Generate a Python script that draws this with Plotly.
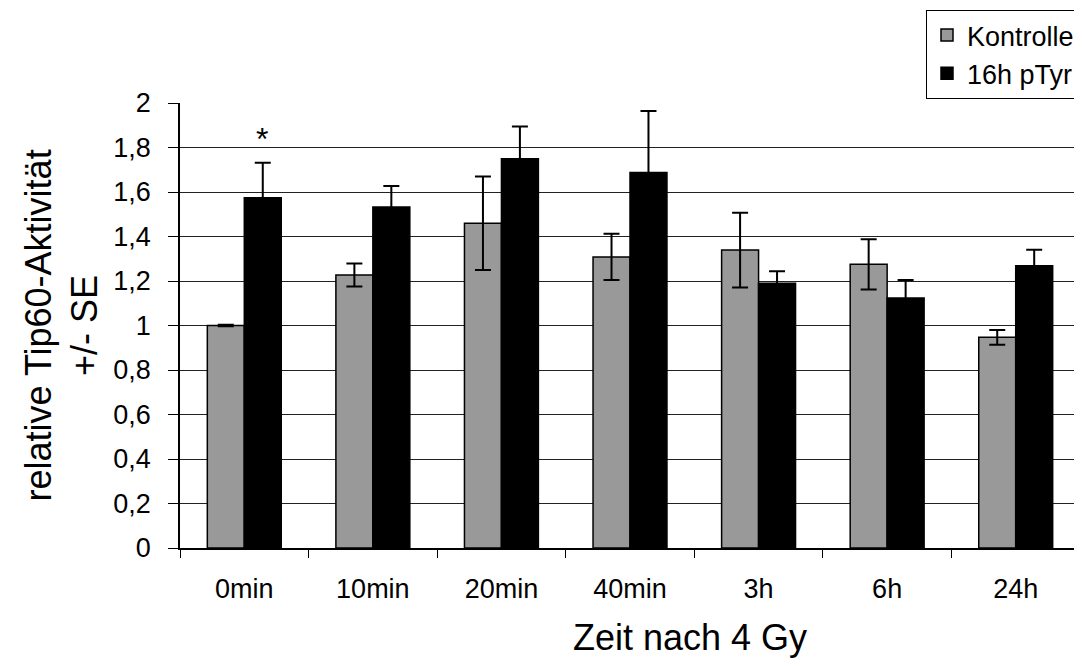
import plotly.graph_objects as go

categories = ["0min", "10min", "20min", "40min", "3h", "6h", "24h"]
kontrolle = [1.0, 1.227, 1.46, 1.308, 1.339, 1.275, 0.947]
kontrolle_se = [0.003, 0.052, 0.21, 0.104, 0.168, 0.113, 0.033]
ptyr = [1.574, 1.533, 1.749, 1.688, 1.19, 1.124, 1.269]
ptyr_se = [0.158, 0.094, 0.145, 0.276, 0.054, 0.08, 0.072]
y_ticks = [0, 0.2, 0.4, 0.6, 0.8, 1.0, 1.2, 1.4, 1.6, 1.8, 2.0]
y_tick_labels = ["0", "0,2", "0,4", "0,6", "0,8", "1", "1,2", "1,4", "1,6", "1,8", "2"]

FONT = "Liberation Sans, Arial, sans-serif"
TICK = 27
TITLE = 36

fig = go.Figure()
fig.add_trace(go.Bar(
    x=categories, y=kontrolle, name="Kontrolle",
    marker=dict(color="#999999", line=dict(color="black", width=1.5)),
    error_y=dict(type="data", array=kontrolle_se, visible=True,
                 color="black", thickness=2, width=8),
))
fig.add_trace(go.Bar(
    x=categories, y=ptyr, name="16h pTyr",
    marker=dict(color="black", line=dict(color="black", width=1.5)),
    error_y=dict(type="data", array=ptyr_se, visible=True,
                 color="black", thickness=2, width=8),
))

# significance marker
fig.add_annotation(x=0.14, xref="x", y=1.75, yref="y", text="*", showarrow=False,
                   xanchor="center", yanchor="bottom",
                   font=dict(family=FONT, size=32, color="black"))

# axis titles
fig.add_annotation(x=0.567, xref="paper", y=0, yref="paper", yshift=-89,
                   text="Zeit nach 4 Gy", showarrow=False,
                   xanchor="center", yanchor="middle",
                   font=dict(family=FONT, size=TITLE, color="black"))
fig.add_annotation(x=0, xref="paper", xshift=-119, y=0.5, yref="paper",
                   text="relative Tip60-Aktivität<br>+/- SE", showarrow=False,
                   textangle=-90, xanchor="center", yanchor="middle",
                   font=dict(family=FONT, size=TITLE, color="black"))

fig.update_layout(
    width=1074, height=658,
    paper_bgcolor="white", plot_bgcolor="white",
    barmode="group", bargap=0.425, bargroupgap=0,
    margin=dict(l=172, r=2, t=93, b=118),
    font=dict(family=FONT, color="black", size=TICK),
    showlegend=True,
    legend=dict(
        x=1, xanchor="right", y=1.009, yanchor="bottom",
        bordercolor="black", borderwidth=1, bgcolor="white",
        font=dict(family=FONT, size=TICK, color="black"),
        tracegroupgap=0, itemwidth=30,
    ),
    xaxis=dict(
        type="category", tickson="boundaries", ticks="outside", ticklen=8,
        tickcolor="black", showline=True, linecolor="black", linewidth=1.5,
        tickfont=dict(family=FONT, size=TICK, color="black"),
        ticklabelstandoff=16,
        showgrid=False,
    ),
    yaxis=dict(
        range=[0, 2], tickvals=y_ticks, ticktext=y_tick_labels,
        ticks="outside", ticklen=10, tickcolor="black",
        showline=True, linecolor="black", linewidth=1.5,
        showgrid=True, gridcolor="#222222", gridwidth=1,
        zeroline=False, ticklabelstandoff=12,
        tickfont=dict(family=FONT, size=TICK, color="black"),
    ),
)

fig.write_html("out.html")
